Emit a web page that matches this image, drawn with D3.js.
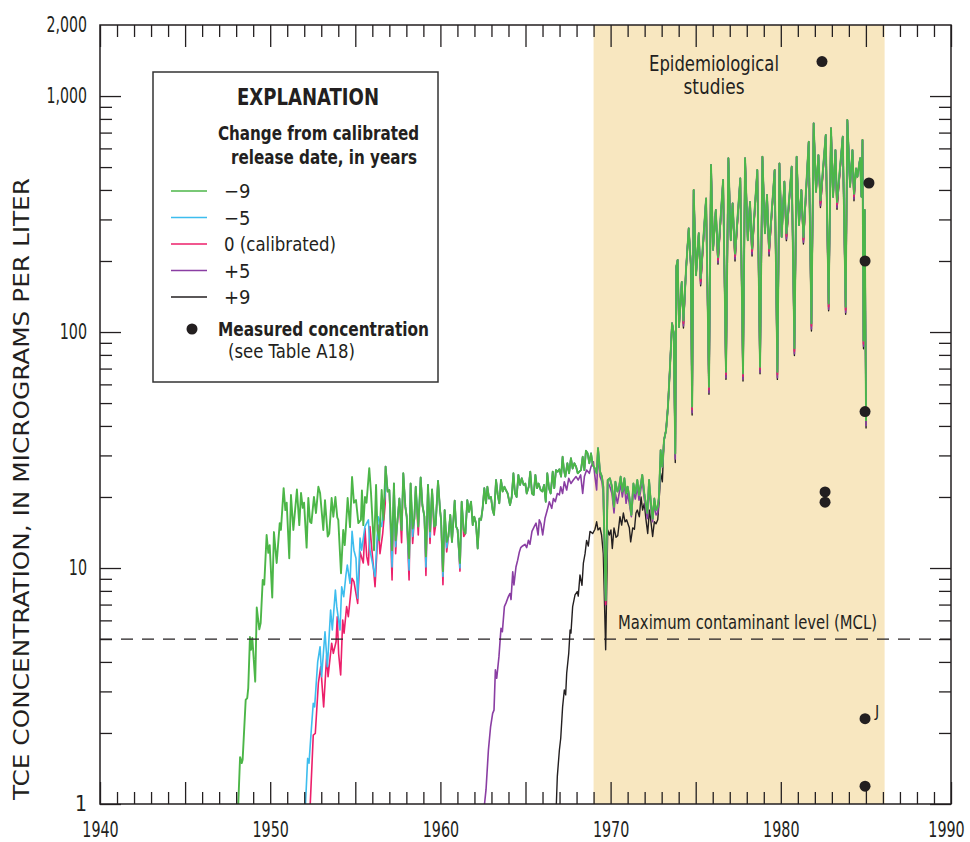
<!DOCTYPE html>
<html><head><meta charset="utf-8">
<script src="https://cdn.jsdelivr.net/npm/d3@7"></script>
<style>
body{margin:0;background:#fff}
text{font-family:"Liberation Sans Narrow","Arial Narrow","DejaVu Sans Condensed",sans-serif;fill:#231f20}
</style>
</head><body><svg id="c" width="970" height="842"></svg>
<script>
// ---------------- DATA ----------------
const xTickYears = d3.range(1940, 1991);
const xLabelYears = [1940, 1950, 1960, 1970, 1980, 1990];
const yLabelValues = [1, 10, 100, 1000, 2000];
const epiPeriod = [1969.0, 1986.1];
const mclValue = 5;

// -9 years (green)
const seriesMinus9 = [
[1948.10,0.9],[1948.23,1.58],[1948.33,1.49],[1948.38,1.54],[1948.56,2.76],[1948.65,2.81],[1948.71,3.10],[1948.81,5.1],[1948.87,4.5],[1948.95,5.05],
[1949.12,3.3],[1949.21,6.8],[1949.36,5.5],[1949.44,5.85],[1949.56,8.9],[1949.65,8.5],[1949.79,13.8],[1949.89,11.6],[1949.97,12.5],
[1950.12,7.5],[1950.22,14.2],[1950.38,10.5],[1950.56,15.5],[1950.63,14.5],[1950.79,21.8],[1950.89,17.6],[1950.97,18.9],
[1951.12,11.0],[1951.22,20.4],[1951.36,14.5],[1951.57,21.5],[1951.71,15.2],[1951.81,20.8],[1951.91,18],[1951.99,18.9],
[1952.14,12.2],[1952.24,19.8],[1952.34,15.7],[1952.42,15.5],[1952.57,20],[1952.69,17.1],[1952.83,22.1],[1952.93,20.8],
[1953.12,14.5],[1953.22,19.4],[1953.38,13.6],[1953.47,14],[1953.61,19.8],[1953.71,16.5],[1953.83,20],[1953.94,16.4],
[1954.0,16],[1954.16,9.5],[1954.29,14.5],[1954.38,12.5],[1954.45,14.9],[1954.55,19.8],[1954.69,14.9],[1954.81,24.3],[1954.92,18.9],
[1955.04,19.4],[1955.18,15.5],[1955.33,16],[1955.39,21.3],[1955.47,15.2],[1955.57,20],[1955.66,18.9],[1955.82,26.5],[1955.92,21],
[1956.10,11.9],[1956.22,22.5],[1956.30,14.5],[1956.41,13.1],[1956.55,21.4],[1956.65,16.0],[1956.78,26.9],[1956.90,21.1],
[1957.00,21.4],[1957.16,11.9],[1957.27,22.8],[1957.37,13.1],[1957.45,15.0],[1957.59,19.7],[1957.72,14.5],[1957.82,25.2],[1957.94,18.2],
[1958.02,16.5],[1958.16,11.0],[1958.25,22.8],[1958.37,14.7],[1958.47,16.2],[1958.55,22.1],[1958.70,15.0],[1958.84,24.2],[1958.94,18.5],
[1959.06,16.5],[1959.15,11.2],[1959.27,22.5],[1959.39,14.3],[1959.51,21.5],[1959.64,15.0],[1959.72,15.2],[1959.86,23.4],[1959.98,17.6],
[1960.04,16.0],[1960.15,9.7],[1960.25,17.6],[1960.37,12.9],[1960.47,13.6],[1960.58,16.8],[1960.68,12.9],[1960.84,19.3],[1960.92,15.0],
[1961.01,14.5],[1961.15,10.5],[1961.25,19.1],[1961.37,14.5],[1961.47,14.0],[1961.58,19.4],[1961.68,17.3],[1961.80,19.1],[1961.90,15.2],
[1961.99,16.5],[1962.09,15.5],[1962.19,12.1],[1962.29,16.2],[1962.39,16.0],[1962.48,17.9],[1962.58,21.8],[1962.68,18.8],[1962.76,22.1],[1962.86,19.7],
[1962.97,20.0],[1963.07,17.6],[1963.15,16.8],[1963.27,23.6],[1963.37,20.4],[1963.46,18.8],[1963.56,23.6],[1963.66,21.1],[1963.76,22.1],[1963.85,21.4],
[1963.95,20.7],[1964.09,18.5],[1964.19,20.0],[1964.29,25.2],[1964.38,20.7],[1964.48,20.0],[1964.58,24.8],[1964.68,22.5],[1964.78,24.0],[1964.89,22.5],
[1964.99,22.8],[1965.07,20.7],[1965.19,22.1],[1965.28,25.6],[1965.38,20.7],[1965.48,20.4],[1965.58,24.8],[1965.68,21.8],[1965.77,22.8],[1965.89,21.4],
[1965.99,21.1],[1966.09,22.5],[1966.19,19.1],[1966.28,25.2],[1966.38,21.8],[1966.48,20.7],[1966.60,25.6],[1966.69,21.8],[1966.79,26.0],[1966.89,25.6],
[1966.99,26.2],[1967.09,24.4],[1967.18,29.6],[1967.26,26.0],[1967.34,24.4],[1967.46,27.8],[1967.56,25.2],[1967.67,29.2],[1967.77,26.4],[1967.87,27.8],
[1967.97,26.9],[1968.07,25.2],[1968.16,25.6],[1968.26,26.0],[1968.36,29.6],[1968.46,26.0],[1968.55,31.4],[1968.65,30.6],[1968.75,27.8],[1968.85,30.6],
[1968.95,27.3],[1969.08,26.4],[1969.18,25.2],[1969.26,32.2],[1969.38,25.6],[1969.49,24.4],[1969.57,22.1],[1969.71,7.3],[1969.83,23.6],[1969.96,24.0],
[1970.08,22.1],[1970.20,18.2],[1970.28,23.2],[1970.40,21.1],[1970.47,21.5],[1970.59,24.4],[1970.69,21.1],[1970.81,24.0],[1970.91,20.7],
[1971.00,22.1],[1971.10,20.0],[1971.22,16.8],[1971.34,22.8],[1971.45,20.7],[1971.57,23.6],[1971.67,20.4],[1971.77,22.5],[1971.86,24.8],[1971.98,20.7],
[1972.08,18.5],[1972.16,17.1],[1972.26,23.6],[1972.37,18.8],[1972.47,16.2],[1972.57,19.7],[1972.67,17.6],[1972.77,18.2],[1972.84,20.0],[1972.94,31.6],
[1973.04,26.9],[1973.14,34.9],[1973.26,38.4],[1973.37,48.3],[1973.49,71.3],[1973.61,109],[1973.71,98.7],[1973.80,30.6],[1973.86,189],[1973.94,202],
[1974.02,105],[1974.18,163],[1974.28,112],[1974.43,183],[1974.59,275],[1974.71,195],[1974.79,48.3],[1974.88,400],
[1975.02,174],[1975.18,262],[1975.29,169],[1975.61,368],[1975.78,58.7],[1975.90,510],
[1976.02,223],[1976.18,329],[1976.31,208],[1976.61,441],[1976.78,67.9],[1976.92,545],
[1977.06,245],[1977.17,351],[1977.31,215],[1977.62,448],[1977.78,66.8],[1977.90,545],
[1978.06,245],[1978.19,356],[1978.31,226],[1978.62,486],[1978.78,71.3],[1978.92,553],
[1979.07,262],[1979.19,381],[1979.31,226],[1979.64,486],[1979.80,67.9],[1979.92,518],
[1980.05,253],[1980.21,434],[1980.33,262],[1980.64,502],[1980.80,85.3],[1980.93,553],
[1981.07,284],[1981.21,400],[1981.33,253],[1981.64,640],[1981.80,109],[1981.93,766],
[1982.07,393],[1982.21,562],[1982.33,362],[1982.64,684],[1982.81,132],[1982.95,730],
[1983.07,374],[1983.21,590],[1983.30,356],[1983.64,673],[1983.81,128],[1983.91,791],
[1984.07,413],[1984.21,590],[1984.30,386],[1984.42,493],[1984.50,455],[1984.66,545],[1984.74,374],[1984.80,651],[1984.86,92],[1984.93,329],[1985.01,42]
];

// -5 years (cyan): own early record, then coincides with -9 except deeper troughs
const rampMinus5 = [
[1952.06,0.95],[1952.20,1.56],[1952.28,1.49],[1952.42,2.09],[1952.53,2.67],[1952.61,2.58],[1952.79,4.0],[1952.93,4.64],[1953.02,3.46],
[1953.22,5.37],[1953.36,3.82],[1953.55,6.64],[1953.65,5.46],[1953.83,8.07],[1953.91,6.86],[1954.10,5.46],[1954.20,8.33],[1954.32,7.56],
[1954.45,9.34],[1954.53,10.3],[1954.69,8.61],[1954.81,14.3],[1954.92,11.9],[1955.04,11.0],[1955.14,7.44],[1955.28,13.4],[1955.37,11.9],
[1955.57,15.0],[1955.77,16.0],[1955.86,11.9],[1956.16,9.2],[1956.35,16.5],[1956.55,15.0],[1956.76,20.7]
];
const dipsMinus5 = [[1957.16,10.1],[1958.16,9.8],[1959.15,10.1],[1960.15,9.2],[1961.15,10.0],[1957.37,12.3],[1958.37,13.6],[1959.39,13.5],[1960.37,12.2]];

// 0 (calibrated, pink)
const rampZero = [
[1952.34,0.95],[1952.53,1.96],[1952.65,1.99],[1952.83,3.25],[1952.97,3.82],[1953.14,2.58],[1953.32,4.28],[1953.40,3.46],[1953.61,4.80],
[1953.71,4.35],[1953.87,4.87],[1953.94,6.22],[1954.02,4.35],[1954.14,3.52],[1954.26,6.02],[1954.34,5.29],[1954.49,6.86],[1954.59,6.22],
[1954.73,7.81],[1954.81,9.04],[1954.92,8.75],[1955.14,7.08],[1955.28,11.7],[1955.47,10.5],[1955.57,14.7],[1955.67,11.2],[1955.77,10.3],
[1955.86,15.0],[1956.16,8.33],[1956.35,15.2],[1956.45,11.5],[1956.61,14.0],[1956.76,18.8]
];
const dipsZero = [[1957.16,8.9],[1958.16,8.9],[1959.15,9.3],[1960.15,8.5],[1961.15,9.7],[1957.37,11.5],[1958.37,12.7],[1959.39,12.7],[1960.37,11.7],
[1961.37,13.6],[1957.72,12.8],[1958.70,13.8],[1959.64,13.8],[1969.71,7.0],
[1974.28,109],[1974.79,47],[1975.29,164],[1975.78,57],[1976.31,202],[1976.78,66],[1977.31,209],[1977.78,65],[1978.31,220],[1978.78,69.5],
[1979.31,220],[1979.80,66],[1980.33,255],[1980.80,83],[1981.33,246],[1981.80,106],[1982.33,352],[1982.81,128],[1983.30,346],[1983.81,124],[1984.30,375],[1984.86,89]];

// +5 years (purple)
const rampPlus5 = [
[1962.56,0.95],[1962.68,1.15],[1962.82,1.69],[1962.95,2.13],[1963.07,2.42],[1963.15,2.5],[1963.23,3.70],[1963.31,3.41],[1963.44,4.21],
[1963.56,5.55],[1963.64,5.37],[1963.76,6.86],[1963.85,7.1],[1963.99,7.56],[1964.09,7.8],[1964.15,7.35],[1964.25,9.64],[1964.32,8.47],
[1964.44,10.1],[1964.54,10.8],[1964.64,11.7],[1964.72,12.2],[1964.83,12.4],[1964.97,12.6],[1965.07,12.2],[1965.17,13.1],[1965.26,12.6],
[1965.38,14.3],[1965.52,15.0],[1965.62,15.5],[1965.74,13.8],[1965.81,16.0],[1965.91,15.4],[1966.01,13.8],[1966.15,16.3],[1966.28,17.6],
[1966.40,19.1],[1966.54,17.9],[1966.64,19.7],[1966.75,19.1],[1966.87,20.7],[1966.99,20.4],[1967.07,22.1],[1967.18,20.7],[1967.28,23.2],
[1967.42,21.4],[1967.54,24.0],[1967.67,22.8],[1967.81,23.6],[1967.97,24.4],[1968.10,23.6],[1968.24,24.8],[1968.36,20.7],[1968.46,24.4],
[1968.59,26.0],[1968.75,25.2],[1968.85,26.9],[1968.99,28.2],
[1969.08,24.4],[1969.18,21.4],[1969.26,30.6],[1969.38,24.4],[1969.49,23.2],[1969.57,20.7],[1969.71,6.97],[1969.83,23.2],[1969.96,22.1],
[1970.08,20.7],[1970.20,17.1],[1970.28,20.7],[1970.40,18.8],[1970.47,20.0],[1970.59,22.8],[1970.69,20.0],[1970.81,22.8],[1970.91,18.8],
[1971.00,20.7],[1971.10,18.8],[1971.22,16.5],[1971.34,21.4],[1971.45,19.6],[1971.57,22.1],[1971.67,19.4],[1971.77,21.4],[1971.86,23.6],
[1971.98,19.6],[1972.08,17.6],[1972.16,16.2],[1972.26,22.1],[1972.37,17.9],[1972.47,15.7],[1972.57,18.8],[1972.67,16.8],[1972.77,17.1],
[1972.84,19.1],[1972.94,28.2]
];
const dipsPlus5 = [[1973.80,29],[1974.28,106],[1974.79,45.5],[1975.29,160],[1975.78,55.5],[1976.31,197],[1976.78,64],[1977.31,204],[1977.78,63],
[1978.31,214],[1978.78,67.5],[1979.31,214],[1979.80,64],[1980.33,248],[1980.80,81],[1981.33,240],[1981.80,103],[1982.33,343],[1982.81,125],
[1983.30,337],[1983.81,121],[1984.30,366],[1984.86,87],[1985.01,40]];

// +9 years (black)
const rampPlus9 = [
[1966.79,0.9],[1966.87,1.31],[1966.99,1.69],[1967.07,1.90],[1967.18,2.58],[1967.28,3.04],[1967.36,2.9],[1967.42,3.58],[1967.54,4.35],
[1967.62,5.46],[1967.67,5.3],[1967.77,6.86],[1967.91,7.69],[1968.04,7.95],[1968.10,7.6],[1968.20,9.34],[1968.32,8.45],[1968.40,10.5],
[1968.50,11.5],[1968.59,13.1],[1968.69,12.4],[1968.79,14.3],[1968.95,14.0],[1969.08,14.6],[1969.18,15.7],[1969.26,14.5],[1969.38,14.8],
[1969.47,13.8],[1969.57,11.5],[1969.71,4.5],[1969.83,14.5],[1969.93,13.8],[1970.02,14.5],[1970.10,12.1],[1970.20,14.8],[1970.32,13.5],
[1970.42,13.7],[1970.55,16.5],[1970.65,15.2],[1970.75,17.1],[1970.85,15.7],[1970.94,16.0],[1971.10,14.8],[1971.18,12.9],[1971.30,14.8],
[1971.40,14.6],[1971.49,17.1],[1971.57,17.6],[1971.69,16.5],[1971.79,20.0],[1971.88,17.6],[1971.98,18.8],[1972.08,16.0],[1972.18,14.0],
[1972.28,17.6],[1972.37,15.7],[1972.47,13.6],[1972.57,15.7],[1972.67,15.4],[1972.77,16.0],[1972.84,18.8],[1972.94,25.2],[1973.04,23.2]
];
const dipsPlus9 = [[1973.80,28],[1974.28,104],[1974.79,44.5],[1975.29,157],[1975.78,54.5],[1976.31,194],[1976.78,63],[1977.31,200],[1977.78,62],
[1978.31,210],[1978.78,66.5],[1979.31,210],[1979.80,63],[1980.33,244],[1980.80,79.5],[1981.33,236],[1981.80,101],[1982.33,337],[1982.81,123],
[1983.30,331],[1983.81,119],[1984.30,360],[1984.86,85],[1985.01,39]];

// Measured concentrations (Table A18)
const measured = [[1982.42,1400,""],[1985.18,428,""],[1984.95,200,""],[1984.95,46,""],[1982.6,21,""],[1982.6,19,""],[1984.95,2.3,"J"],[1984.95,1.19,""]];

const legendLabels = ["\u22129", "\u22125", "0 (calibrated)", "+5", "+9"];
const legendColors = ["#4cb648", "#3dbdee", "#ec1f6a", "#8a3ea3", "#231f20"];

// ------------- assemble series (shared portions where lines coincide) -------------
function withDips(base, dips) {
  const m = new Map(dips.map(d => [d[0], d[1]]));
  return base.map(d => m.has(d[0]) ? [d[0], m.get(d[0])] : d);
}
const after = (arr, yr) => arr.filter(d => d[0] > yr);
const series = [
  {key: "+9", color: legendColors[4], w: 1.4, data: rampPlus9.concat(withDips(after(seriesMinus9, 1973.04), dipsPlus9))},
  {key: "+5", color: legendColors[3], w: 1.6, data: rampPlus5.concat(withDips(after(seriesMinus9, 1972.94), dipsPlus5))},
  {key: "0",  color: legendColors[2], w: 1.6, data: rampZero.concat(withDips(after(seriesMinus9, 1956.76), dipsZero))},
  {key: "-5", color: legendColors[1], w: 1.6, data: rampMinus5.concat(withDips(after(seriesMinus9, 1956.76), dipsMinus5))},
  {key: "-9", color: legendColors[0], w: 1.9, data: seriesMinus9}
];

// ---------------- CHART ----------------
const svg = d3.select("#c");
const L = 100, R = 951, T = 25, B = 804;
const x = d3.scaleLinear().domain([1940, 1990]).range([L, R]);
const y = d3.scaleLog().domain([1, 2000]).range([B, T]);
const ink = "#231f20";
const fit = (sel, w) => sel.attr("textLength", w).attr("lengthAdjust", "spacingAndGlyphs");

svg.append("defs").append("clipPath").attr("id", "clip")
  .append("rect").attr("x", L).attr("y", T).attr("width", R - L).attr("height", B - T);

// shading
svg.append("rect").attr("x", x(epiPeriod[0])).attr("y", T)
  .attr("width", x(epiPeriod[1]) - x(epiPeriod[0])).attr("height", B - T)
  .attr("fill", "#f8e7c0");

svg.append("text").attr("x", 714).attr("y", 71).attr("text-anchor", "middle").attr("font-size", 21).text("Epidemiological").call(fit, 130);
svg.append("text").attr("x", 714).attr("y", 94).attr("text-anchor", "middle").attr("font-size", 21).text("studies").call(fit, 61);

// lines
const line = d3.line().x(d => x(d[0])).y(d => y(d[1]));
const gl = svg.append("g").attr("clip-path", "url(#clip)");
series.forEach(s => {
  gl.append("path").datum(s.data).attr("d", line).attr("fill", "none")
    .attr("stroke", s.color).attr("stroke-width", s.w).attr("stroke-linejoin", "round");
});

// MCL
svg.append("line").attr("x1", L).attr("x2", R).attr("y1", y(mclValue)).attr("y2", y(mclValue))
  .attr("stroke", ink).attr("stroke-width", 1.3).attr("stroke-dasharray", "12,9");
svg.append("text").attr("x", 618).attr("y", y(mclValue) - 10).attr("font-size", 20).text("Maximum contaminant level (MCL)").call(fit, 259);

// measured points
svg.append("g").selectAll("circle").data(measured).join("circle")
  .attr("cx", d => x(d[0])).attr("cy", d => y(d[1])).attr("r", 5.5).attr("fill", ink);
svg.append("g").selectAll("text").data(measured.filter(d => d[2])).join("text")
  .attr("x", d => x(d[0]) + 10).attr("y", d => y(d[1]) - 2).attr("font-size", 16).text(d => d[2]);

// axes
const minorYears = xTickYears.filter(v => v % 5 !== 0);
const majorYears = xTickYears.filter(v => v % 5 === 0);
const minorVals = [];
[1, 10, 100, 1000].forEach(dec => d3.range(2, 10).forEach(k => minorVals.push(dec * k)));
const minorY = minorVals.filter(v => v < 2000);
const majorY = [1, 10, 100, 1000];

function styleAxis(g) {
  g.select(".domain").remove();
  g.selectAll(".tick line").attr("stroke", ink).attr("stroke-width", 1.3);
  g.selectAll(".tick text").attr("font-size", 21).attr("font-family", null).attr("fill", ink)
    .each(function() {
      const s = d3.select(this).text();
      if (s.length > 1) {
        const commas = (s.match(/,/g) || []).length;
        fit(d3.select(this), (s.length - commas) * 9.1 + commas * 4);
      }
    });
}
svg.append("g").attr("transform", `translate(0,${B})`)
  .call(d3.axisBottom(x).tickValues(minorYears).tickSize(-12).tickFormat("")).call(styleAxis);
const xLab = svg.append("g").attr("transform", `translate(0,${B})`)
  .call(d3.axisBottom(x).tickValues(majorYears).tickSize(-22).tickPadding(18)
    .tickFormat(d => xLabelYears.includes(d) ? d : "")).call(styleAxis);
xLab.selectAll(".tick text").filter(d => d === 1990).attr("dx", -5);
svg.append("g").attr("transform", `translate(0,${T})`)
  .call(d3.axisTop(x).tickValues(minorYears).tickSize(-12).tickFormat("")).call(styleAxis);
svg.append("g").attr("transform", `translate(0,${T})`)
  .call(d3.axisTop(x).tickValues(majorYears).tickSize(-22).tickFormat("")).call(styleAxis);

svg.append("g").attr("transform", `translate(${L},0)`)
  .call(d3.axisLeft(y).tickValues(minorY).tickSize(-12).tickFormat("")).call(styleAxis);
svg.append("g").attr("transform", `translate(${L},0)`)
  .call(d3.axisLeft(y).tickValues(majorY).tickSize(-21).tickFormat("")).call(styleAxis);
svg.append("g").attr("transform", `translate(${L},0)`)
  .call(d3.axisLeft(y).tickValues(yLabelValues).tickSize(0).tickPadding(13).tickFormat(d3.format(","))).call(styleAxis);
svg.append("g").attr("transform", `translate(${R},0)`)
  .call(d3.axisRight(y).tickValues(minorY).tickSize(-12).tickFormat("")).call(styleAxis);
svg.append("g").attr("transform", `translate(${R},0)`)
  .call(d3.axisRight(y).tickValues(majorY).tickSize(-21).tickFormat("")).call(styleAxis);

// frame
svg.append("rect").attr("x", L).attr("y", T).attr("width", R - L).attr("height", B - T)
  .attr("fill", "none").attr("stroke", ink).attr("stroke-width", 1.5);

// y title
svg.append("text").attr("transform", `translate(29,489) rotate(-90)`).attr("text-anchor", "middle")
  .attr("font-size", 21).text("TCE CONCENTRATION, IN MICROGRAMS PER LITER").call(fit, 622);

// legend
const lg = svg.append("g");
lg.append("rect").attr("x", 153).attr("y", 72).attr("width", 285).attr("height", 310)
  .attr("fill", "#fff").attr("stroke", "#333").attr("stroke-width", 1.5);
lg.append("text").attr("x", 237).attr("y", 105).attr("font-size", 23).attr("font-weight", "bold").text("EXPLANATION").call(fit, 142);
lg.append("text").attr("x", 218).attr("y", 140).attr("font-size", 20).attr("font-weight", "bold").text("Change from calibrated").call(fit, 201);
lg.append("text").attr("x", 231).attr("y", 164).attr("font-size", 20).attr("font-weight", "bold").text("release date, in years").call(fit, 186);
legendLabels.forEach((lab, i) => {
  const yy = 191 + i * 26.5;
  lg.append("line").attr("x1", 171).attr("x2", 207).attr("y1", yy).attr("y2", yy)
    .attr("stroke", legendColors[i]).attr("stroke-width", 1.5);
  const t = lg.append("text").attr("x", 224).attr("y", yy + 7).attr("font-size", 20).text(lab);
  if (lab.length > 2) fit(t, 112);
});
lg.append("circle").attr("cx", 192).attr("cy", 329).attr("r", 5.5).attr("fill", ink);
lg.append("text").attr("x", 218).attr("y", 336).attr("font-size", 20).attr("font-weight", "bold").text("Measured concentration").call(fit, 211);
lg.append("text").attr("x", 228).attr("y", 358).attr("font-size", 20).text("(see Table A18)").call(fit, 127);
</script></body></html>
